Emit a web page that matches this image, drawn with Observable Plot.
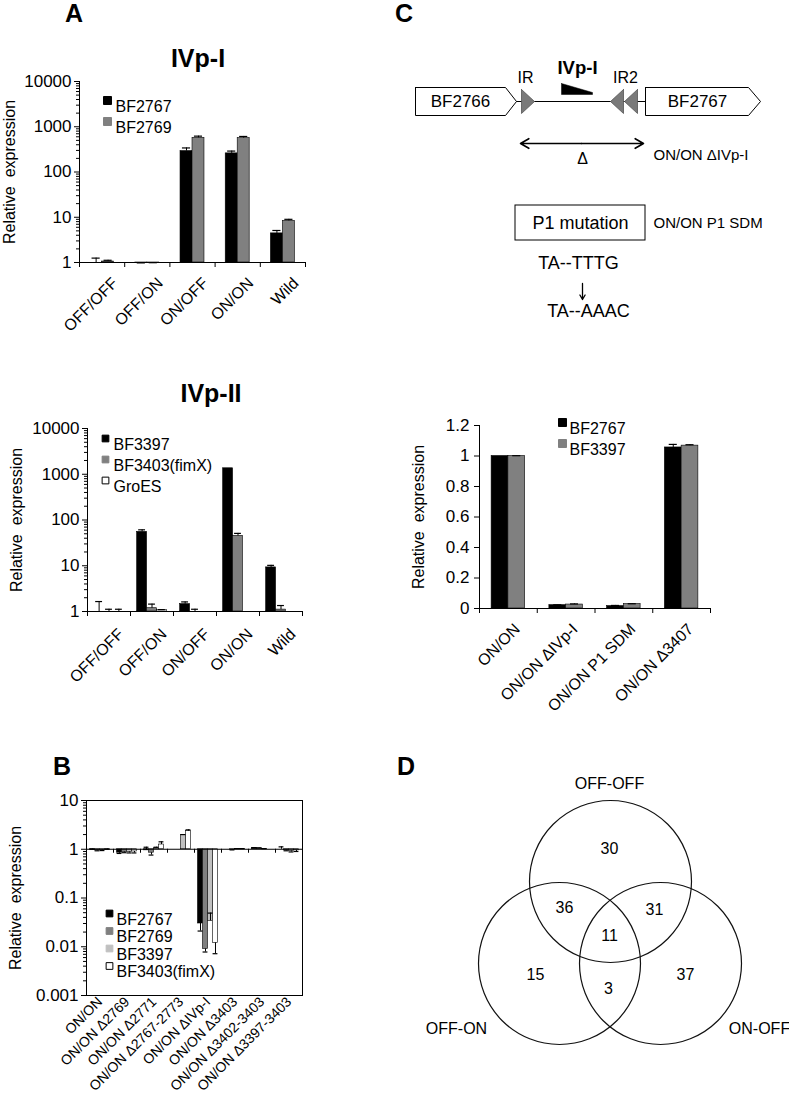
<!DOCTYPE html>
<html><head><meta charset="utf-8">
<script src="https://cdn.jsdelivr.net/npm/d3@7"></script>
<script src="https://cdn.jsdelivr.net/npm/@observablehq/plot@0.6"></script>
<style>
body{margin:0;background:#fff;}
#page{position:relative;width:789px;height:1100px;overflow:hidden;background:#fff;font-family:"Liberation Sans",Arial,Helvetica,sans-serif;color:#000;}
#page svg{overflow:visible;}
</style></head>
<body><div id="page"></div>
<script>
// ================= DATA =================
// Panel A – IVp-I
const aCategories = ["OFF/OFF", "OFF/ON", "ON/OFF", "ON/ON", "Wild"];
const ivp1Series = ["BF2767", "BF2769"];
const ivp1BF2767 = [1.0, 0.97, 290, 258, 4.4];
const ivp1BF2767Err = [1.25, 0.98, 340, 290, 5.1];
const ivp1BF2769 = [1.05, 0.98, 570, 560, 8.3];
const ivp1BF2769Err = [1.12, 0.99, 620, 610, 9.0];

// Panel A – IVp-II
const ivp2Series = ["BF3397", "BF3403(fimX)", "GroES"];
const ivp2BF3397 = [1.0, 55, 1.45, 1350, 9.2];
const ivp2BF3397Err = [1.65, 61, 1.62, 1350, 10.2];
const ivp2BF3403 = [1.0, 1.18, 1.0, 45, 1.1];
const ivp2BF3403Err = [1.12, 1.45, 1.12, 51, 1.35];
const ivp2GroES = [1.0, 1.08, 1.0, 1.0, 1.0];
const ivp2GroESErr = [1.12, 1.1, 1.0, 1.0, 1.0];

const logTicksA = [1, 10, 100, 1000, 10000];
const logTickLabelsA = ["1", "10", "100", "1000", "10000"];

// Panel B
const bCategories = ["ON/ON", "ON/ON Δ2769", "ON/ON Δ2771", "ON/ON Δ2767-2773", "ON/ON ΔIVp-I", "ON/ON Δ3403", "ON/ON Δ3402-3403", "ON/ON Δ3397-3403"];
const bSeries = ["BF2767", "BF2769", "BF3397", "BF3403(fimX)"];
const bBF2767 = [0.97, 0.85, 0.95, 1.0, 0.030, 1.0, 1.06, 1.0];
const bBF2767Err = [1.01, 0.82, 1.1, 1.0, 0.021, 1.0, 1.08, 1.12];
const bBF2769 = [0.95, 0.88, 0.85, 1.0, 0.009, 0.98, 1.05, 0.95];
const bBF2769Err = [0.93, 0.85, 0.76, 1.0, 0.0078, 0.97, 1.06, 0.93];
const bBF3397 = [0.96, 0.88, 1.05, 1.95, 0.034, 1.02, 1.02, 0.92];
const bBF3397Err = [0.94, 0.84, 1.1, 2.0, 0.049, 1.03, 1.03, 0.88];
const bBF3403 = [0.97, 0.9, 1.25, 2.35, 0.012, 1.02, 1.0, 0.95];
const bBF3403Err = [1.01, 0.84, 1.42, 2.5, 0.0072, 1.03, 1.0, 0.9];
const logTicksB = [0.001, 0.01, 0.1, 1, 10];
const logTickLabelsB = ["0.001", "0.01", "0.1", "1", "10"];

// Panel C – bar chart
const cCategories = ["ON/ON", "ON/ON ΔIVp-I", "ON/ON P1 SDM", "ON/ON Δ3407"];
const cSeries = ["BF2767", "BF3397"];
const cBF2767 = [1.0, 0.022, 0.016, 1.056];
const cBF2767Err = [1.0, 0.024, 0.02, 1.076];
const cBF3397 = [1.0, 0.026, 0.029, 1.068];
const cBF3397Err = [1.002, 0.03, 0.031, 1.074];
const cTicks = [0, 0.2, 0.4, 0.6, 0.8, 1.0, 1.2];
const cTickLabels = ["0", "0.2", "0.4", "0.6", "0.8", "1", "1.2"];

// Panel C – schematic texts
const cGeneNames = ["BF2766", "BF2767"];
const cSiteNames = ["IR", "IR2"];
const cPromoterName = "IVp-I";
const cDeletionText = ["Δ", "ON/ON ΔIVp-I"];
const cMutationText = ["P1 mutation", "ON/ON P1 SDM"];
const cSequenceText = ["TA--TTTG", "TA--AAAC"];

// Panel D – Venn
const vennSets = ["OFF-OFF", "OFF-ON", "ON-OFF"];
const vennCounts = [30, 36, 31, 11, 15, 3, 37];

const yLabelText = "Relative\u00a0 expression";

// ================= LAYOUT / HELPERS =================
const FONT = '"Liberation Sans", Arial, Helvetica, sans-serif';
const page = document.getElementById("page");

function put(svg, left, top) {
  svg.style.position = "absolute";
  svg.style.left = left + "px";
  svg.style.top = top + "px";
  page.appendChild(svg);
}
function htmlText(text, x, baseline, size, bold, center) {
  const d = document.createElement("div");
  d.textContent = text;
  d.style.cssText = `position:absolute;white-space:nowrap;line-height:1;font:${bold ? "bold " : ""}${size}px ${FONT};top:${baseline - 0.847 * size}px;left:${x}px;` + (center ? "transform:translateX(-50%);" : "");
  page.appendChild(d);
}
function minorLogTicks(lo, hi) {
  const out = [];
  for (let e = Math.round(Math.log10(lo)); e < Math.round(Math.log10(hi)); e++)
    for (let k = 2; k <= 9; k++) out.push(k * Math.pow(10, e));
  return out;
}
function barMarks(vals, errs, fills, g) {
  const rows = [];
  vals.forEach((arr, si) => arr.forEach((v, ci) => rows.push({ci, si, value: v, err: errs[si][ci]})));
  const left = d => d.ci + g.offsets[d.si];
  const mid = d => left(d) + g.barW / 2;
  const withErr = rows.filter(d => d.err !== d.value);
  return [
    Plot.rect(rows, {x1: left, x2: d => left(d) + g.barW, y1: g.base, y2: "value", fill: d => fills[d.si], stroke: "#000", strokeWidth: 0.6}),
    Plot.ruleX(withErr, {x: mid, y1: "value", y2: "err", stroke: "#000", strokeWidth: 1}),
    Plot.ruleY(withErr, {y: "err", x1: d => mid(d) - g.capHalf, x2: d => mid(d) + g.capHalf, stroke: "#000", strokeWidth: 1.2})
  ];
}
function legendMarks(names, fills, L) {
  return names.flatMap((n, i) => [
    Plot.dot([n], {frameAnchor: "top-left", dx: L.dxBox, dy: L.dy + i * L.step, symbol: "square", r: L.r, fill: fills[i], stroke: fills[i] === "#ffffff" ? "#000" : fills[i], strokeWidth: 1}),
    Plot.text([n], {frameAnchor: "top-left", dx: L.dxText, dy: L.dy + i * L.step, text: d => d, textAnchor: "start", fontSize: L.fontSize || 16})
  ]);
}
function catAxes(cats, fontSize, tickSize, shift) {
  return [
    Plot.axisX({ticks: d3.range(cats.length + 1), tickSize: tickSize, tickFormat: () => "", label: null}),
    Plot.axisX({ticks: cats.map((c, i) => i + 0.5), tickSize: 0, tickPadding: 7, tickRotate: -45, tickFormat: d => cats[Math.floor(d)], label: null, fontSize, dx: shift[0], dy: shift[1]})
  ];
}
function yAxes(ticks, labels, minor) {
  const m = new Map(ticks.map((t, i) => [t, labels[i]]));
  const out = [];
  if (minor) out.push(Plot.axisY({ticks: minor, tickSize: 3, tickFormat: () => "", label: null}));
  out.push(Plot.axisY({ticks, tickSize: 5, tickPadding: 3, tickFormat: d => m.get(d), label: null, fontSize: 17}));
  return out;
}
function yLabel(dx) {
  return Plot.text([yLabelText], {frameAnchor: "left", textAnchor: "middle", lineAnchor: "middle", rotate: -90, dx, text: d => d, fontSize: 16});
}
const baseStyle = {fontFamily: FONT, fontSize: "16px", color: "#000", background: "transparent", overflow: "visible"};

// ================= PANEL LETTERS & TITLES =================
htmlText("A", 65, 20, 25, true);
htmlText("C", 395, 20, 25, true);
htmlText("B", 53, 773, 25, true);
htmlText("D", 397, 773, 25, true);
htmlText("IVp-I", 198, 65, 25, true, true);
htmlText("IVp-II", 211, 400, 25, true, true);

// ================= A: IVp-I =================
const fillsA1 = ["#000000", "#808080"];
put(Plot.plot({
  width: 330, height: 270, marginLeft: 79, marginRight: 25, marginTop: 11, marginBottom: 78,
  x: {domain: [0, aCategories.length]},
  y: {type: "log", domain: [1, 10000]},
  color: {type: "identity"},
  style: baseStyle,
  marks: [
    ...barMarks([ivp1BF2767, ivp1BF2769], [ivp1BF2767Err, ivp1BF2769Err], fillsA1, {offsets: [0.235, 0.5], barW: 0.265, capHalf: 0.09, base: 1}),
    Plot.ruleX([0]), Plot.ruleY([1]),
    ...yAxes(logTicksA, logTickLabelsA, minorLogTicks(1, 10000)),
    ...catAxes(aCategories, 16, 5, [13, 11]),
    yLabel(-70),
    ...legendMarks(ivp1Series, fillsA1, {dxBox: 28, dxText: 36, dy: 19, step: 21, r: 4.5})
  ]
}), 0, 70);

// ================= A: IVp-II =================
const fillsA2 = ["#000000", "#808080", "#ffffff"];
put(Plot.plot({
  width: 330, height: 270, marginLeft: 87, marginRight: 28, marginTop: 13, marginBottom: 74,
  x: {domain: [0, aCategories.length]},
  y: {type: "log", domain: [1, 10000]},
  color: {type: "identity"},
  style: baseStyle,
  marks: [
    ...barMarks([ivp2BF3397, ivp2BF3403, ivp2GroES], [ivp2BF3397Err, ivp2BF3403Err, ivp2GroESErr], fillsA2, {offsets: [0.155, 0.385, 0.615], barW: 0.23, capHalf: 0.08, base: 1}),
    Plot.ruleX([0]), Plot.ruleY([1]),
    ...yAxes(logTicksA, logTickLabelsA, minorLogTicks(1, 10000)),
    ...catAxes(aCategories, 16, 5, [12, 13]),
    yLabel(-71),
    ...legendMarks(ivp2Series, fillsA2, {dxBox: 18, dxText: 26, dy: 10, step: 21, r: 3.8})
  ]
}), 0, 415);

// ================= B =================
const fillsB = ["#000000", "#7f7f7f", "#c0c0c0", "#ffffff"];
put(Plot.plot({
  width: 330, height: 315, marginLeft: 86, marginRight: 28, marginTop: 15, marginBottom: 105,
  x: {domain: [0, bCategories.length]},
  y: {type: "log", domain: [0.001, 10]},
  color: {type: "identity"},
  style: baseStyle,
  marks: [
    ...barMarks([bBF2767, bBF2769, bBF3397, bBF3403], [bBF2767Err, bBF2769Err, bBF3397Err, bBF3403Err], fillsB, {offsets: [0.13, 0.315, 0.5, 0.685], barW: 0.185, capHalf: 0.09, base: 1}),
    Plot.frame({stroke: "#000"}),
    Plot.ruleY([1], {stroke: "#000", strokeWidth: 1.2}),
    Plot.ruleX(d3.range(1, bCategories.length), {x: d => d, y1: 1, y2: 1, insetTop: 4}),
    ...yAxes(logTicksB, logTickLabelsB, minorLogTicks(0.001, 10)),
    Plot.axisX({ticks: bCategories.map((c, i) => i + 0.5), tickSize: 0, tickPadding: 4, tickRotate: -45, tickFormat: d => bCategories[Math.floor(d)], label: null, fontSize: 14}),
    yLabel(-71),
    ...legendMarks(bSeries, fillsB, {dxBox: 23, dxText: 30, dy: 113, step: 17.5, r: 3.8})
  ]
}), 0, 785);

// ================= C: bar chart =================
const fillsC = ["#000000", "#808080"];
const cTickMap = new Map(cTicks.map((t, i) => [t, cTickLabels[i]]));
put(Plot.plot({
  width: 399, height: 320, marginLeft: 89, marginRight: 79, marginTop: 15, marginBottom: 122,
  x: {domain: [0, cCategories.length]},
  y: {domain: [0, 1.2]},
  color: {type: "identity"},
  style: baseStyle,
  marks: [
    ...barMarks([cBF2767, cBF3397], [cBF2767Err, cBF3397Err], fillsC, {offsets: [0.21, 0.5], barW: 0.29, capHalf: 0.07, base: 0}),
    Plot.ruleX([0]), Plot.ruleY([0]),
    Plot.axisY({ticks: cTicks, tickSize: 5, tickPadding: 5, tickFormat: d => cTickMap.get(d), label: null, fontSize: 17}),
    ...catAxes(cCategories, 16, 5, [9, 11]),
    yLabel(-60.5),
    ...legendMarks(cSeries, fillsC, {dxBox: 83, dxText: 90, dy: -3, step: 21, r: 4.5})
  ]
}), 390, 410);

// ================= C: schematic =================
const geneShapes = [
  [[415, 87], [505, 87], [516, 101], [505, 115], [415, 115], [415, 87]],
  [[645, 87], [748, 87], [760, 101], [748, 115], [645, 115], [645, 87]]
];
const geneLabelPos = [[460, 101], [697, 101]];
const siteShapes = [
  [[521, 89], [534, 101], [521, 113], [521, 89]],
  [[623, 89], [610, 101], [623, 113], [623, 89]],
  [[637, 89], [624, 101], [637, 113], [637, 89]]
];
const siteLabelPos = [[525, 77], [625, 77]];
const wedgeShape = [[561, 83], [592, 92], [592, 94], [561, 94], [561, 83]];
const P = d => d;
put(Plot.plot({
  width: 399, height: 300, margin: 0,
  x: {domain: [390, 789], range: [0, 399], axis: null},
  y: {domain: [40, 340], range: [0, 300], axis: null},
  style: baseStyle,
  marks: [
    Plot.ruleY([101], {x1: 516, x2: 645, stroke: "#000", strokeWidth: 1}),
    ...geneShapes.map(s => Plot.line(s, {x: d => d[0], y: d => d[1], fill: "#fff", stroke: "#000", strokeWidth: 1})),
    Plot.text(cGeneNames, {x: (d, i) => geneLabelPos[i][0], y: (d, i) => geneLabelPos[i][1], text: P, fontSize: 17}),
    ...siteShapes.map(s => Plot.line(s, {x: d => d[0], y: d => d[1], fill: "#7a7a7a", stroke: "#555", strokeWidth: 0.8})),
    Plot.text(cSiteNames, {x: (d, i) => siteLabelPos[i][0], y: (d, i) => siteLabelPos[i][1], text: P, fontSize: 16}),
    Plot.text([cPromoterName], {x: 577, y: 68, text: P, fontSize: 18.5, fontWeight: "bold"}),
    Plot.line(wedgeShape, {x: d => d[0], y: d => d[1], fill: "#000", stroke: "#000", strokeWidth: 0.5}),
    Plot.arrow([{a: 581, b: 520}, {a: 581, b: 643}], {x1: "a", x2: "b", y1: 143, y2: 143, headLength: 9, strokeWidth: 1.6, stroke: "#000"}),
    Plot.text([cDeletionText[0]], {x: 582, y: 158, text: P, fontSize: 16}),
    Plot.text([cDeletionText[1]], {x: 653, y: 155, text: P, fontSize: 15, textAnchor: "start"}),
    Plot.rect([cMutationText[0]], {x1: 515, x2: 645, y1: 205, y2: 240, fill: "#fff", stroke: "#000", strokeWidth: 1}),
    Plot.text([cMutationText[0]], {x: 580, y: 223, text: P, fontSize: 18}),
    Plot.text([cMutationText[1]], {x: 653, y: 223, text: P, fontSize: 15, textAnchor: "start"}),
    Plot.text([cSequenceText[0]], {x: 578, y: 263, text: P, fontSize: 18}),
    Plot.arrow([0], {x1: 582, x2: 582, y1: 283, y2: 299, headLength: 6, strokeWidth: 1.3, stroke: "#000"}),
    Plot.text([cSequenceText[1]], {x: 588, y: 311, text: P, fontSize: 18})
  ]
}), 390, 40);

// ================= D: Venn =================
const vennCircleLayout = [[610, 881], [559, 963], [660, 963]];
const vennSetLabelLayout = [[609, 783], [456, 1028], [759, 1028]];
const vennCountLayout = [[609, 848], [564, 907], [654, 909], [609, 935], [535, 974], [608, 988], [685, 974]];
put(Plot.plot({
  width: 399, height: 320, margin: 0,
  x: {domain: [390, 789], range: [0, 399], axis: null},
  y: {domain: [740, 1060], range: [0, 320], axis: null},
  style: baseStyle,
  marks: [
    Plot.dot(vennSets, {x: (d, i) => vennCircleLayout[i][0], y: (d, i) => vennCircleLayout[i][1], r: 81, fill: "none", stroke: "#111", strokeWidth: 1.2}),
    Plot.text(vennSets, {x: (d, i) => vennSetLabelLayout[i][0], y: (d, i) => vennSetLabelLayout[i][1], text: P, fontSize: 16}),
    Plot.text(vennCounts, {x: (d, i) => vennCountLayout[i][0], y: (d, i) => vennCountLayout[i][1], text: d => String(d), fontSize: 16})
  ]
}), 390, 740);
</script>
</body></html>
